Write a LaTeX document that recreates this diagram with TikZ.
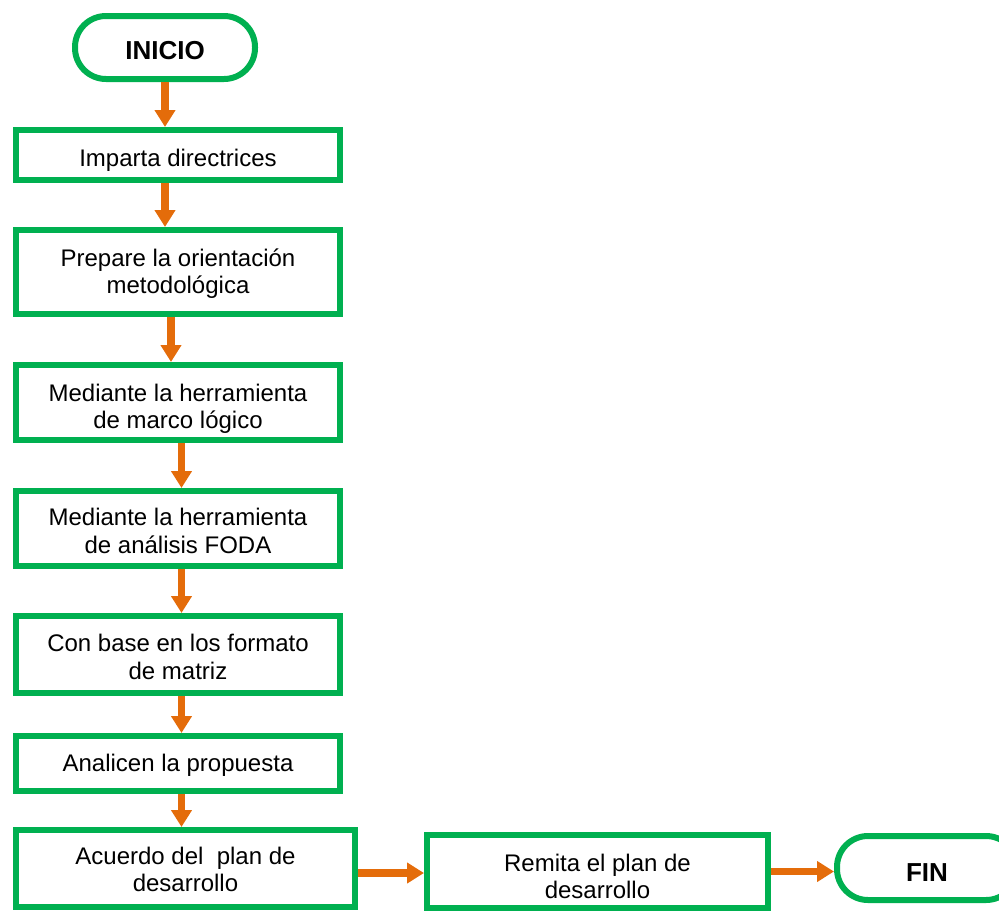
\documentclass[tikz,border=0pt]{standalone}
\usepackage{fontspec}
\setmainfont{Liberation Sans}
\usetikzlibrary{arrows.meta,calc}
\definecolor{boxgreen}{HTML}{00B050}
\definecolor{arrorange}{HTML}{E46C0A}
\newcommand{\lowtext}[2]{\raisebox{-#1}[\height][\depth]{\begin{tabular}{@{}c@{}}#2\end{tabular}}}
\begin{document}
\begin{tikzpicture}[x=1pt,y=-1pt,
  box/.style={draw=boxgreen, line width=6pt, rectangle, inner sep=0pt, align=center,
    minimum width=324pt, font=\fontsize{24}{27.3}\selectfont},
  term/.style={draw=boxgreen, line width=6pt, rounded corners=31pt, inner sep=0pt,
    minimum width=180pt, minimum height=63pt, font=\bfseries\fontsize{26}{30}\selectfont},
  arr/.style={draw=arrorange, line width=7.5pt, -{Triangle[width=20pt,length=17pt]}}]
\useasboundingbox (0,0) rectangle (999,911);
\clip (0,0) rectangle (999,911);
\node[term] (start) at (165,47.5) {\lowtext{6pt}{INICIO}};
\node[box, minimum height=50pt] (b1) at (178,155) {\lowtext{6pt}{Imparta directrices}};
\node[box, minimum height=84pt] (b2) at (178,272) {\lowtext{2.5pt}{Prepare la orientación\\metodológica}};
\node[box, minimum height=75pt] (b3) at (178,402.5) {\lowtext{7pt}{Mediante la herramienta\\de marco lógico}};
\node[box, minimum height=75pt] (b4) at (178,528.5) {\lowtext{5.5pt}{Mediante la herramienta\\de análisis FODA}};
\node[box, minimum height=77pt] (b5) at (178,654.5) {\lowtext{5.5pt}{Con base en los formato\\de matriz}};
\node[box, minimum height=55pt] (b6) at (178,763.5) {\lowtext{3pt}{Analicen la propuesta}};
\node[box, minimum width=339pt, minimum height=77pt] (b7) at (185.5,868.5) {\lowtext{4pt}{Acuerdo del\ \ plan de\\desarrollo}};
\node[box, minimum width=341pt, minimum height=73pt] (b8) at (597.5,871.5) {\lowtext{8pt}{Remita el plan de\\desarrollo}};
\node[term, minimum height=64pt] (fin) at (927,868) {\lowtext{7pt}{FIN}};
\draw[arr] (start.south) -- (start.south |- b1.north);
\draw[arr] (b1.south -| start.south) -- (b2.north -| start.south);
\draw[arr] ([xshift=-7pt]b2.south) -- ([xshift=-7pt]b3.north);
\draw[arr] ([xshift=3.5pt]b3.south) -- ([xshift=3.5pt]b4.north);
\draw[arr] ([xshift=3.5pt]b4.south) -- ([xshift=3.5pt]b5.north);
\draw[arr] ([xshift=3.5pt]b5.south) -- ([xshift=3.5pt]b6.north);
\draw[arr] ([xshift=3.5pt]b6.south) -- ([xshift=3.5pt]b6.south |- b7.north);
\draw[arr] ([yshift=-4.5pt]b7.east) -- ([yshift=-4.5pt]b7.east -| b8.west);
\draw[arr] (b8.east) -- (b8.east -| fin.west);
\end{tikzpicture}
\end{document}
